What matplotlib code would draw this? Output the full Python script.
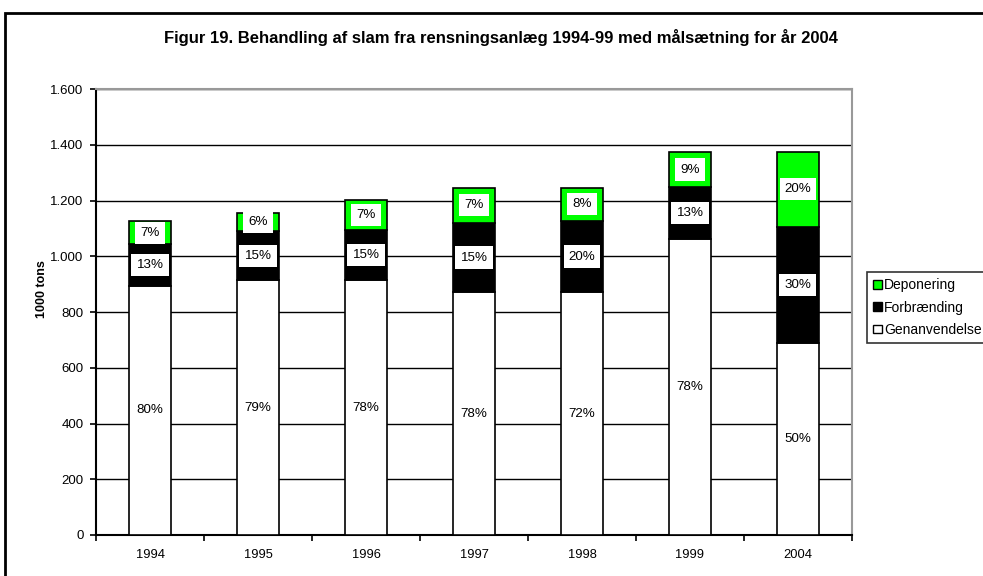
import matplotlib
matplotlib.use("Agg")
import matplotlib.pyplot as plt
from matplotlib.patches import Rectangle, Patch
from matplotlib.ticker import FuncFormatter
import numpy as np

plt.rcParams['font.family'] = ['Liberation Sans', 'DejaVu Sans']

# --- data ---
years = ["1994", "1995", "1996", "1997", "1998", "1999", "2004"]
genanvendelse = [894, 915, 915, 872, 872, 1064, 688]
forbraending = [149, 176, 179, 248, 255, 185, 418]
deponering = [84, 65, 110, 127, 120, 126, 269]
pct_gen = ["80%", "79%", "78%", "78%", "72%", "78%", "50%"]
pct_forb = ["13%", "15%", "15%", "15%", "20%", "13%", "30%"]
pct_dep = ["7%", "6%", "7%", "7%", "8%", "9%", "20%"]

fig = plt.figure(figsize=(9.83, 5.76), dpi=100)
ax = fig.add_axes([0.0977, 0.0712, 0.7690, 0.7738])

x = np.arange(len(years))
w = 0.39
gen = np.array(genanvendelse)
forb = np.array(forbraending)
dep = np.array(deponering)

ax.bar(x, gen, w, color="white", edgecolor="black", linewidth=1.2, zorder=3)
ax.bar(x, forb, w, bottom=gen, color="black", edgecolor="black", linewidth=1.2, zorder=3)
ax.bar(x, dep, w, bottom=gen + forb, color="#00ff00", edgecolor="black", linewidth=1.2, zorder=3)

# percentage labels with white boxes
box = dict(boxstyle="square,pad=0.38", fc="white", ec="none")
for i in range(len(years)):
    ax.text(x[i], gen[i] / 2, pct_gen[i], ha="center", va="center", fontsize=9.6, bbox=box, zorder=4)
    ax.text(x[i], gen[i] + forb[i] / 2, pct_forb[i], ha="center", va="center", fontsize=9.6, bbox=box, zorder=4)
    ax.text(x[i], gen[i] + forb[i] + dep[i] / 2, pct_dep[i], ha="center", va="center", fontsize=9.6, bbox=box, zorder=4)

ax.set_ylim(0, 1600)
ax.set_xlim(-0.5, len(years) - 0.5)
ax.set_yticks(np.arange(0, 1601, 200))
ax.yaxis.set_major_formatter(FuncFormatter(lambda v, p: f"{int(v):,}".replace(",", ".")))
ax.yaxis.grid(True, color="black", linewidth=1.0, zorder=0)
ax.set_axisbelow(True)

ax.set_xticks(x)
ax.set_xticklabels(years)
ax.set_xticks(np.arange(-0.5, len(years), 1.0), minor=True)
ax.tick_params(axis="x", which="major", length=0, pad=10, labelsize=9.3)
ax.tick_params(axis="x", which="minor", length=4, width=1.2, direction="out")
ax.tick_params(axis="y", length=4, width=1.2, direction="out", labelsize=9.5, pad=5)

for s in ["left", "bottom"]:
    ax.spines[s].set_color("black")
    ax.spines[s].set_linewidth(1.5)
for s in ["top", "right"]:
    ax.spines[s].set_color("#999999")
    ax.spines[s].set_linewidth(1.5)

fig.text(42 / 983, 0.498, "1000 tons", rotation=90, ha="center", va="center",
         fontsize=9, fontweight="bold")

fig.text(0.51, 0.935, "Figur 19. Behandling af slam fra rensningsanlæg 1994-99 med målsætning for år 2004",
         ha="center", va="center", fontsize=12, fontweight="bold")

handles = [Patch(fc="#00ff00", ec="black", label="Deponering"),
           Patch(fc="black", ec="black", label="Forbrænding"),
           Patch(fc="white", ec="black", label="Genanvendelse")]
leg = fig.legend(handles=handles, loc="upper left", bbox_to_anchor=(867 / 983, 1 - 272 / 576),
                 bbox_transform=fig.transFigure, fontsize=10, frameon=True,
                 fancybox=False, handlelength=0.6, handleheight=0.6,
                 handletextpad=0.2, borderpad=0.45, labelspacing=0.6, borderaxespad=0)
leg.get_frame().set_edgecolor("black")
leg.get_frame().set_linewidth(1.2)

# outer chart border
fig.patches.append(Rectangle((0.005, -0.01), 1.0, 0.988, transform=fig.transFigure,
                             fill=False, ec="black", lw=2))

fig.savefig("out.png", dpi=100)
